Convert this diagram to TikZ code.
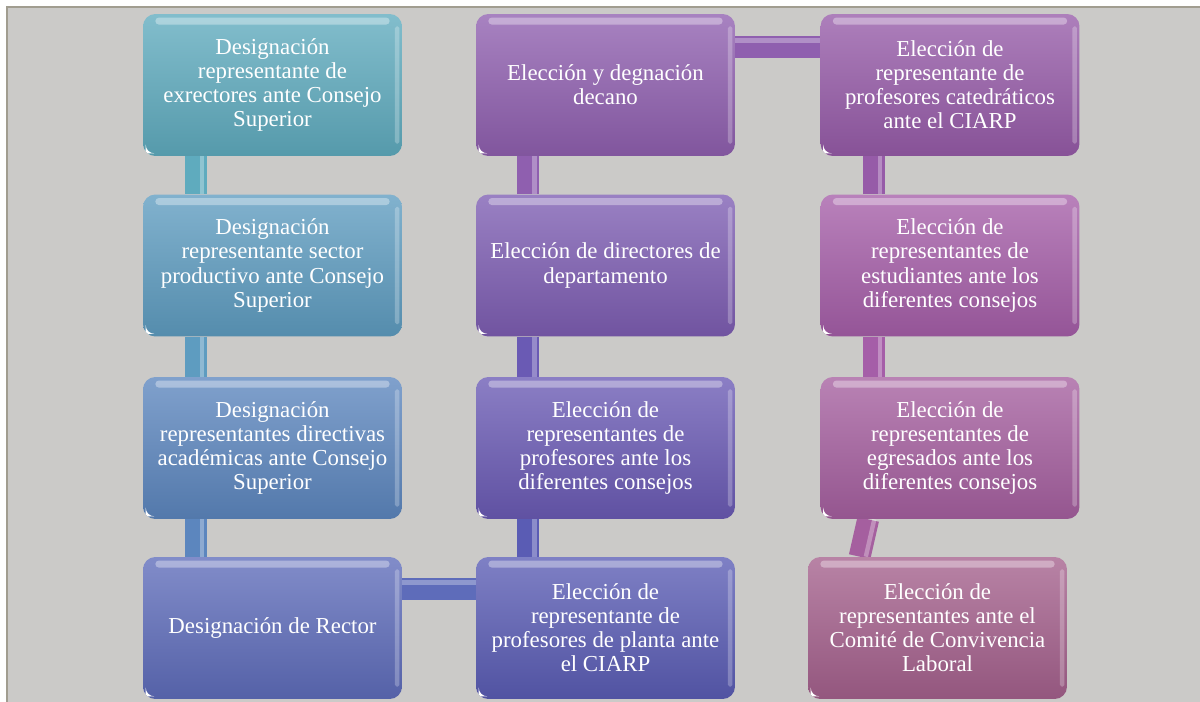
\documentclass[tikz,border=0pt]{standalone}
\usepackage{fontspec}
\setmainfont{Liberation Serif}
\usetikzlibrary{backgrounds}

\definecolor{paper}{HTML}{CBCAC8}
\definecolor{frameline}{HTML}{A19D90}
\definecolor{tealA}{HTML}{5FABBE}
\definecolor{tealB}{HTML}{5E9CC0}
\definecolor{blueA}{HTML}{5C86BE}
\definecolor{blueB}{HTML}{5E6CBA}
\definecolor{violetA}{HTML}{8F5FAF}
\definecolor{violetB}{HTML}{7D5DB2}
\definecolor{indigoA}{HTML}{6A5AB4}
\definecolor{indigoB}{HTML}{5A5CB4}
\definecolor{plumA}{HTML}{965BA8}
\definecolor{plumB}{HTML}{A55EA8}
\definecolor{mauveA}{HTML}{A55F9F}
\definecolor{mauveB}{HTML}{A4608C}

\tikzset{
  stage/.style={rounded corners=7pt, minimum width=5.18cm, minimum height=2.84cm,
    inner sep=2pt, align=center, text=white, font=\fontsize{13}{13.7}\selectfont,
    top color=#1!78!white, bottom color=#1!90!black,
    path picture={
      \fill[white,opacity=.35,rounded corners=2pt] ([shift={(7pt,-2pt)}]path picture bounding box.north west)
        rectangle ([shift={(-7pt,-6pt)}]path picture bounding box.north east);
      \fill[white,opacity=.25,rounded corners=1pt] ([shift={(-4pt,7pt)}]path picture bounding box.south east)
        rectangle ([shift={(-1.5pt,-7pt)}]path picture bounding box.north east);
      \fill[white,sharp corners] ([shift={(1.5pt,1.5pt)}]path picture bounding box.south west)
        -- ++(5pt,0) arc[start angle=-90,end angle=-180,radius=5pt] -- cycle;
    }},
  vlink/.style={line width=12.5pt, draw=#1,
    postaction={draw=white, opacity=.3, line width=2.5pt, transform canvas={xshift=3.5pt}}},
  hlink/.style={line width=12.5pt, draw=#1,
    postaction={draw=white, opacity=.3, line width=2.5pt, transform canvas={yshift=3.5pt}}},
}

\begin{document}
\begin{tikzpicture}[x=0.02cm, y=-0.02cm]
  \useasboundingbox (0, 0) rectangle (1200, 702);

  % first column
  \node [stage=tealA] (rep) at (272.5, 85) {Designación\\representante de\\exrectores ante Consejo\\Superior};
  \node [stage=tealB] (prod) at (272.5, 265.5) {Designación\\representante sector\\productivo ante Consejo\\Superior};
  \node [stage=blueA] (dir) at (272.5, 448) {Designación\\representantes directivas\\académicas ante Consejo\\Superior};
  \node [stage=blueB] (rector) at (272.5, 628) {Designación de Rector};

  % second column
  \node [stage=violetA] (decano) at (605.5, 85) {Elección y degnación\\decano};
  \node [stage=violetB] (depto) at (605.5, 265.5) {Elección de directores de\\departamento};
  \node [stage=indigoA] (prof) at (605.5, 448) {Elección de\\representantes de\\profesores ante los\\diferentes consejos};
  \node [stage=indigoB] (planta) at (605.5, 628) {Elección de\\representante de\\profesores de planta ante\\el CIARP};

  % third column
  \node [stage=plumA] (catedra) at (950, 85) {Elección de\\representante de\\profesores catedráticos\\ante el CIARP};
  \node [stage=plumB] (estud) at (950, 265.5) {Elección de\\representantes de\\estudiantes ante los\\diferentes consejos};
  \node [stage=mauveA] (egres) at (950, 448) {Elección de\\representantes de\\egresados ante los\\diferentes consejos};
  \node [stage=mauveB] (comite) at (937.5, 628) {Elección de\\representantes ante el\\Comité de Convivencia\\Laboral};

  \begin{scope}[on background layer]
    \fill [paper] (7, 7) rectangle (1200, 702);
    \draw [frameline, line width=1.2pt] (7, 702) -- (7, 7) -- (1200, 7);

    \draw [vlink=tealA] ([xshift=1.06cm]rep.south west) -- ([xshift=1.06cm]prod.north west);
    \draw [vlink=tealB] ([xshift=1.06cm]prod.south west) -- ([xshift=1.06cm]dir.north west);
    \draw [vlink=blueA] ([xshift=1.06cm]dir.south west) -- ([xshift=1.06cm]rector.north west);
    \draw [hlink=blueB] ([yshift=-0.64cm]rector.north east) -- ([yshift=-0.64cm]planta.north west);
    \draw [vlink=indigoB] ([xshift=1.05cm]planta.north west) -- ([xshift=1.05cm]prof.south west);
    \draw [vlink=indigoA] ([xshift=1.05cm]prof.north west) -- ([xshift=1.05cm]depto.south west);
    \draw [vlink=violetA] ([xshift=1.05cm]depto.north west) -- ([xshift=1.05cm]decano.south west);
    \draw [hlink=violetA] ([yshift=-0.66cm]decano.north east) -- ([yshift=-0.66cm]catedra.north west);
    \draw [vlink=plumA] ([xshift=1.07cm]catedra.south west) -- ([xshift=1.07cm]estud.north west);
    \draw [vlink=plumB] ([xshift=1.07cm]estud.south west) -- ([xshift=1.07cm]egres.north west);
    \draw [vlink=mauveA] ([xshift=0.96cm]egres.south west) -- ([xshift=1.04cm]comite.north west);
  \end{scope}
\end{tikzpicture}
\end{document}
